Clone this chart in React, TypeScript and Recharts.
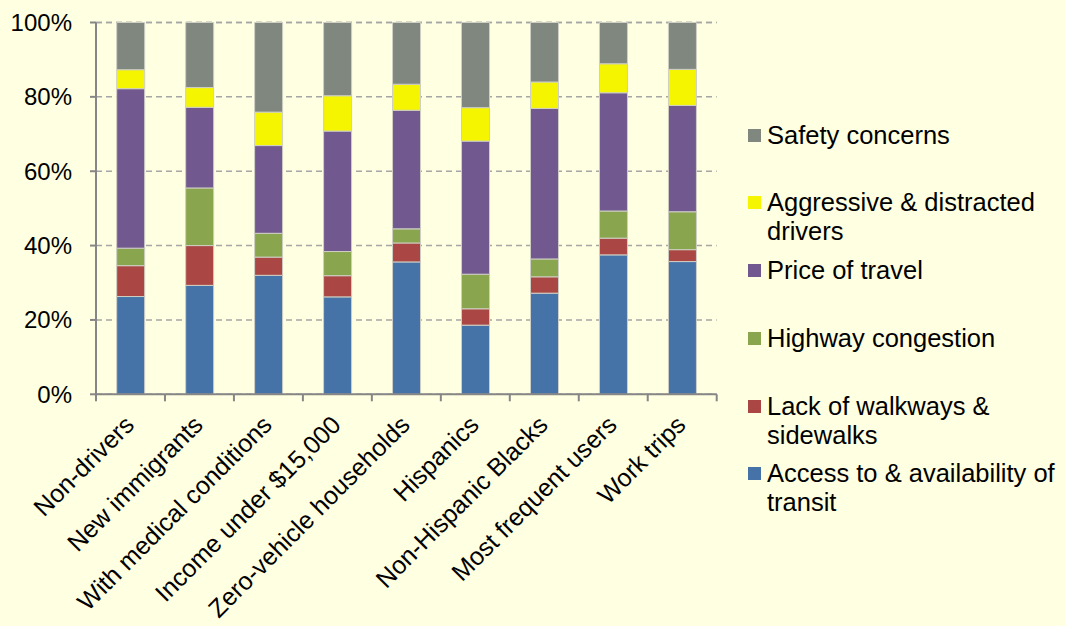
import { Bar, BarChart, CartesianGrid, Legend, XAxis, YAxis } from "recharts"

const categories = [
  "Non-drivers",
  "New immigrants",
  "With medical conditions",
  "Income under $15,000",
  "Zero-vehicle households",
  "Hispanics",
  "Non-Hispanic Blacks",
  "Most frequent users",
  "Work trips",
]

// shares in percent, bottom of the stack first
const transitAccess = [26.3, 29.3, 32.0, 26.2, 35.6, 18.6, 27.2, 37.5, 35.7]
const walkways = [8.3, 10.7, 4.9, 5.7, 5.1, 4.4, 4.4, 4.5, 3.2]
const congestion = [4.7, 15.5, 6.4, 6.5, 3.8, 9.3, 4.8, 7.3, 10.2]
const travelPrice = [42.9, 21.7, 23.6, 32.4, 31.9, 35.8, 40.5, 31.8, 28.6]
const aggressiveDrivers = [5.1, 5.3, 9.0, 9.5, 7.0, 9.0, 7.1, 7.8, 9.7]
const safety = [12.7, 17.5, 24.1, 19.7, 16.6, 22.9, 16.0, 11.1, 12.6]

const yTicks = [0, 20, 40, 60, 80, 100]

const series = [
  { key: "access", name: "Access to & availability of transit", values: transitAccess, color: "#4572A7" },
  { key: "walk", name: "Lack of walkways & sidewalks", values: walkways, color: "#AA4643" },
  { key: "highway", name: "Highway congestion", values: congestion, color: "#89A54E" },
  { key: "price", name: "Price of travel", values: travelPrice, color: "#71588F" },
  { key: "aggr", name: "Aggressive & distracted drivers", values: aggressiveDrivers, color: "#F5F500" },
  { key: "safety", name: "Safety concerns", values: safety, color: "#7F877F" },
]

const data = categories.map((name, i) => {
  const row: Record<string, string | number> = { name }
  series.forEach((s) => {
    row[s.key] = s.values[i]
  })
  return row
})

const FONT = "'Liberation Sans', Arial, sans-serif"
const AXIS_COLOR = "#868686"

function CategoryTick(props: any) {
  const { x, y, payload, index, visibleTicksCount } = props
  const half = payload.offset ?? 34.5
  const tx = x + 5
  const ty = y + 32
  return (
    <g>
      <line x1={x - half} x2={x - half} y1={y} y2={y + 7} stroke={AXIS_COLOR} strokeWidth={2} />
      {index === visibleTicksCount - 1 && (
        <line x1={x + half} x2={x + half} y1={y} y2={y + 7} stroke={AXIS_COLOR} strokeWidth={2} />
      )}
      <text
        x={tx}
        y={ty}
        textAnchor="end"
        transform={`rotate(-45, ${tx}, ${ty})`}
        fontSize={25}
        fontFamily={FONT}
        fill="#000"
      >
        {payload.value}
      </text>
    </g>
  )
}

function LegendList() {
  const items = [...series].reverse()
  return (
    <div style={{ fontFamily: FONT, fontSize: 25.5, color: "#000", paddingLeft: 8 }}>
      {items.map((s) => (
        <div key={s.key} style={{ display: "flex", alignItems: "flex-start", height: 67.8 }}>
          <span
            style={{
              width: 13,
              height: 13,
              marginTop: 8,
              marginRight: 6,
              background: s.color,
              flexShrink: 0,
            }}
          />
          <span style={{ lineHeight: "29px", width: 300 }}>{s.name}</span>
        </div>
      ))}
    </div>
  )
}

export default function App() {
  return (
    <div
      style={{
        position: "absolute",
        left: 0,
        top: 0,
        width: 1065,
        height: 626,
        background: "#FFFFE1",
      }}
    >
      <BarChart
        width={1065}
        height={626}
        data={data}
        margin={{ top: 22.5, right: 18.3, bottom: 0, left: 0 }}
        barCategoryGap="30%"
      >
        <CartesianGrid vertical={false} stroke="#A6A6A6" strokeWidth={1.5} strokeDasharray="6 4" />
        <XAxis
          dataKey="name"
          interval={0}
          height={231.7}
          tickLine={false}
          tickSize={0}
          tickMargin={0}
          axisLine={{ stroke: AXIS_COLOR, strokeWidth: 2 }}
          tick={<CategoryTick />}
        />
        <YAxis
          width={96}
          domain={[0, 100]}
          ticks={yTicks}
          tickFormatter={(v: number) => `${v}%`}
          tickSize={6}
          tickMargin={18}
          tickLine={{ stroke: AXIS_COLOR, strokeWidth: 2 }}
          axisLine={{ stroke: AXIS_COLOR, strokeWidth: 2 }}
          tick={{ fontSize: 24, fontFamily: FONT, fill: "#000" }}
        />
        <Legend
          layout="vertical"
          align="right"
          verticalAlign="top"
          width={330}
          wrapperStyle={{ left: 740, top: 120.5, right: undefined }}
          content={() => <LegendList />}
        />
        {series.map((s) => (
          <Bar
            key={s.key}
            dataKey={s.key}
            name={s.name}
            stackId="a"
            fill={s.color}
            stroke="#CFCFC4"
            strokeWidth={1}
            isAnimationActive={false}
          />
        ))}
      </BarChart>
    </div>
  )
}
